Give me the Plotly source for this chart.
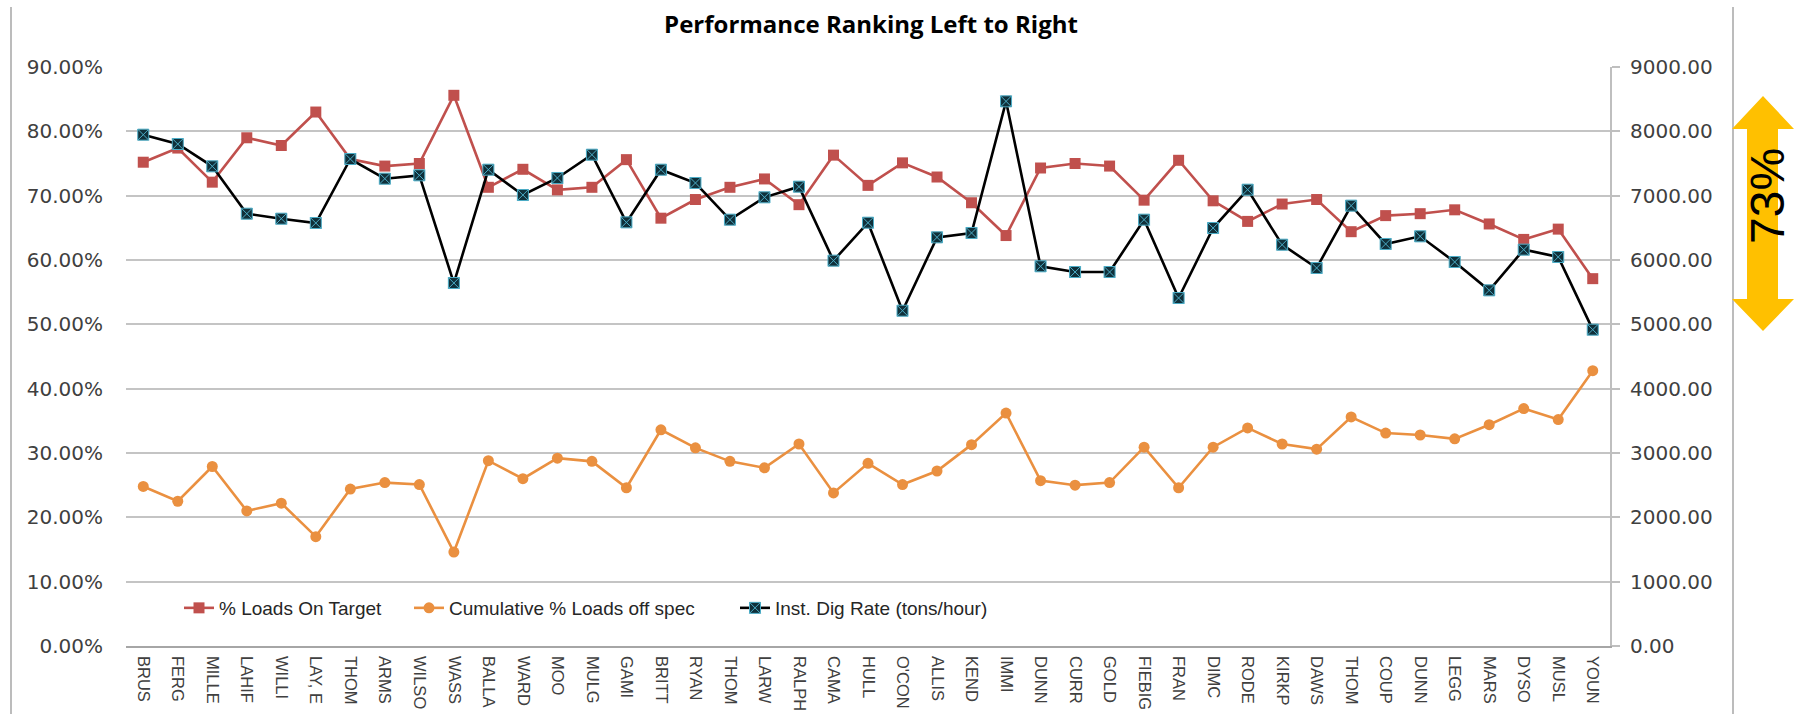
import plotly.graph_objects as go

# ---------------- data ----------------
names = ["BRUS", "FERG", "MILLE", "LAHIF", "WILLI", "LAY, E", "THOM", "ARMS", "WILSO", "WASS",
         "BALLA", "WARD", "MOO", "MULG", "GAMI", "BRITT", "RYAN", "THOM", "LARW", "RALPH",
         "CAMA", "HULL", "O'CON", "ALLIS", "KEND", "IMMI", "DUNN", "CURR", "GOLD", "FIEBIG",
         "FRAN", "DIMC", "RODE", "KIRKP", "DAWS", "THOM", "COUP", "DUNN", "LEGG", "MARS",
         "DYSO", "MUSL", "YOUN"]

on_target_pct = [75.2, 77.4, 72.1, 79.0, 77.8, 83.0, 75.7, 74.6, 75.0, 85.6,
                 71.3, 74.1, 70.9, 71.3, 75.6, 66.5, 69.4, 71.3, 72.6, 68.6,
                 76.3, 71.6, 75.1, 72.9, 68.9, 63.8, 74.3, 75.0, 74.6, 69.3,
                 75.5, 69.2, 66.0, 68.7, 69.4, 64.4, 66.9, 67.2, 67.8, 65.6,
                 63.2, 64.8, 57.1]

off_spec_cum_pct = [24.8, 22.5, 27.9, 21.0, 22.2, 17.0, 24.4, 25.4, 25.1, 14.6,
                    28.8, 26.0, 29.2, 28.7, 24.6, 33.6, 30.8, 28.7, 27.7, 31.4,
                    23.8, 28.4, 25.1, 27.2, 31.3, 36.2, 25.7, 25.0, 25.4, 30.9,
                    24.6, 30.9, 33.9, 31.4, 30.6, 35.6, 33.1, 32.8, 32.2, 34.4,
                    36.9, 35.2, 42.8]

dig_rate = [7948, 7803, 7456, 6720, 6642, 6575, 7570, 7264, 7316, 5642,
            7404, 7010, 7275, 7637, 6585, 7404, 7197, 6627, 6974, 7140,
            5990, 6580, 5212, 6352, 6420, 8466, 5902, 5813, 5813, 6627,
            5409, 6497, 7093, 6238, 5876, 6845, 6249, 6368, 5969, 5528,
            6161, 6047, 4917]

series_names = ["% Loads On Target", "Cumulative % Loads off spec", "Inst. Dig Rate (tons/hour)"]
title_text = "Performance Ranking Left to Right"
callout_text = "73%"

# ---------------- layout geometry ----------------
W, H = 1797, 714
L, R, T, B = 126, 1610, 67, 646
positions = list(range(len(names)))


def px(x):
    return (x - L) / (R - L)


def py(y):
    return (B - y) / (B - T)


fig = go.Figure()

fig.add_trace(go.Scatter(
    x=positions, y=[v / 100 for v in on_target_pct], name=series_names[0],
    mode="lines+markers", legendwidth=185,
    line=dict(color="#C0504D", width=2.6),
    marker=dict(symbol="square", size=11, color="#C0504D"),
))
fig.add_trace(go.Scatter(
    x=positions, y=[v / 100 for v in off_spec_cum_pct], name=series_names[1],
    mode="lines+markers", legendwidth=281,
    line=dict(color="#EA9040", width=2.6),
    marker=dict(symbol="circle", size=11, color="#EA9040"),
))
fig.add_trace(go.Scatter(
    x=positions, y=dig_rate, name=series_names[2], yaxis="y2",
    mode="lines+markers", legendwidth=240,
    line=dict(color="#000000", width=2.6),
    marker=dict(symbol="square-x", size=11, color="#10303A",
                line=dict(color="#4BACC6", width=1)),
))

# outer chart border lines (left and right)
for xb in (11, 1733):
    fig.add_shape(type="line", xref="paper", yref="paper",
                  x0=px(xb), x1=px(xb), y0=py(7), y1=py(H + 5),
                  line=dict(color="#A6A6A6", width=1.5), layer="above")

# yellow double-headed arrow
pts = [(1763, 96), (1794, 129), (1778, 129), (1778, 299), (1794, 299), (1763, 331),
       (1732, 299), (1747, 299), (1747, 129), (1732, 129)]
path = "M " + " L ".join(f"{px(x):.5f},{py(y):.5f}" for x, y in pts) + " Z"
fig.add_shape(type="path", xref="paper", yref="paper", path=path,
              fillcolor="#FFC000", line=dict(width=0), layer="above")

fig.add_annotation(text=callout_text, xref="paper", yref="paper",
                   x=px(1767), y=py(196), xanchor="center", yanchor="middle",
                   showarrow=False, textangle=-90,
                   font=dict(family="Liberation Sans", size=48, color="#000000"))

fig.update_layout(
    width=W, height=H,
    margin=dict(l=L, r=W - R, t=T, b=H - B, autoexpand=False),
    paper_bgcolor="white", plot_bgcolor="white",
    title=dict(text=f"<b>{title_text}</b>", x=871 / W, xanchor="center",
               y=1 - 25 / H, yanchor="middle", yref="container",
               font=dict(family="Open Sans", size=24, color="#000000")),
    showlegend=True,
    legend=dict(orientation="h", x=px(179), xanchor="left", y=py(608), yanchor="middle",
                bgcolor="rgba(0,0,0,0)", font=dict(family="Liberation Sans", size=19, color="#262626"),
                itemwidth=30, traceorder="normal"),
    xaxis=dict(range=[-0.5, len(names) - 0.5], tickmode="array", tickvals=positions,
               ticktext=names, tickangle=90, showgrid=False, zeroline=False,
               showline=True, linecolor="#A6A6A6", linewidth=1.5, ticks="",
               automargin=False, ticklabelstandoff=5,
               tickfont=dict(family="Liberation Sans", size=16.5, color="#404040")),
    yaxis=dict(range=[0, 0.9], dtick=0.1, tickformat=".2%", showgrid=True,
               gridcolor="#C4C4C4", gridwidth=1.5, zeroline=False, showline=False,
               automargin=False, ticks="", ticklabelstandoff=22,
               tickfont=dict(family="DejaVu Sans", size=20, color="#404040")),
    yaxis2=dict(range=[0, 9000], dtick=1000, tickformat=".2f", overlaying="y", side="right",
                showgrid=False, zeroline=False, showline=True, linecolor="#BFBFBF", linewidth=2,
                ticks="outside", ticklen=8, tickcolor="#BFBFBF", tickwidth=1.5,
                automargin=False, ticklabelstandoff=6,
                tickfont=dict(family="DejaVu Sans", size=20, color="#404040")),
)

fig.write_html("out.html", config={"displayModeBar": False},
               post_script="document.body.style.margin='0';")
